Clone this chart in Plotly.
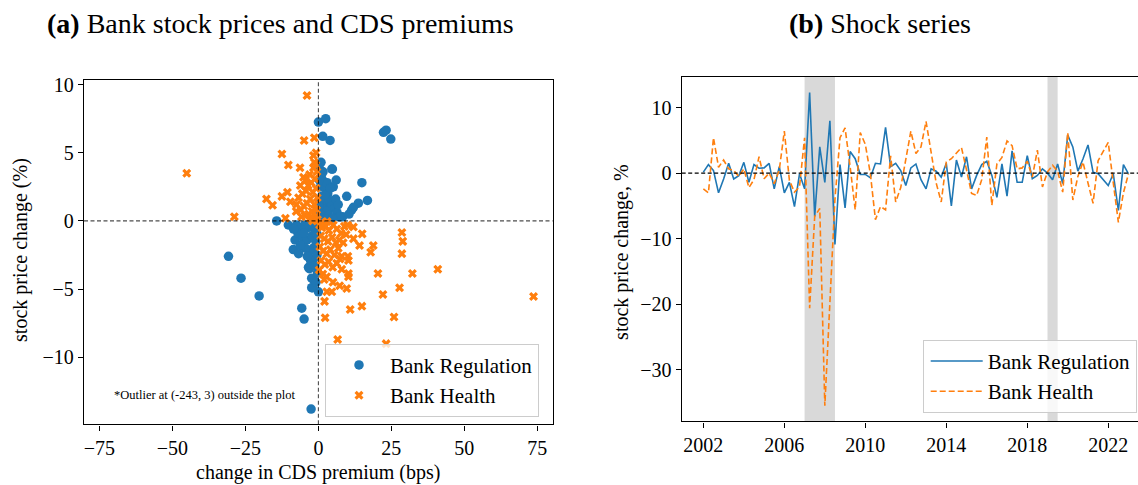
import plotly.graph_objects as go

# ---------------- Panel (a): bank stock prices vs CDS premium changes ----------------
reg_cds = [
    0.0, 2.5, 1.5, 4.0, 22.3, 23.2, 24.8, 4.8, 6.1, 5.1, 14.9, 16.8, 9.7, 13.7, 11.4, 8.3,
    -14.3, -10.3, -30.8, -26.5, -20.3, -5.7, -4.9, -2.5, 0.0, -2.0, -1.7, -3.1, -1.7, -8.0,
    -8.6, -3.4, -2.3, -2.3, 4.6, 12.0, 10.5,
    0.5, 1.0, 1.8, 0.7, 2.5, 3.2, 1.2, 0.4, 2.0, 3.8, 4.5, 5.5, 6.4, 7.2, 1.5, 2.8, 0.6, 3.5,
    4.8, 1.1, 2.3, 5.9, 3.0, 0.9, 0.3, 1.6, 2.2, 0.2, 6.8, 4.1,
    -0.6, -1.4, -2.5, -3.6, -4.8, -6.1, -7.0, -5.4, -3.9, -2.2, -0.9, -1.8, -3.0, -4.5, -6.2,
    -0.5, -2.7, -1.2, -0.3, -0.8, -3.8, -5.0, -1.0, -0.4, -2.0, -7.5, -8.5, -6.8,
]
reg_stock = [
    7.25, 7.5, 6.2, 5.9, 6.5, 6.65, 6.0, 3.8, 3.0, 2.5, 2.8, 1.5, 1.8, 1.3, 0.8, 0.3,
    0.0, -0.3, -2.6, -4.2, -5.5, -6.4, -7.2, -13.8, -5.2, -4.9, -4.3, -3.5, -2.8, -1.4,
    -2.1, -3.4, -4.2, -4.9, 3.8, 1.0, 0.5,
    3.8, 3.2, 2.9, 2.5, 2.4, 2.0, 1.8, 1.5, 1.3, 1.5, 1.1, 0.9, 0.6, 0.3, 0.9, 0.7, 0.5, 0.4,
    0.2, 0.2, 0.1, 1.6, 2.8, 4.3, 3.0, 3.6, 1.9, 1.1, 1.2, 2.4,
    -0.3, -0.6, -0.2, -0.5, -0.3, -0.6, -0.9, -1.2, -1.4, -1.1, -1.5, -2.0, -2.2, -2.0, -1.8,
    -2.5, -2.9, -3.3, -3.8, -4.5, -2.6, -0.9, -0.9, -1.0, -0.4, -0.3, -0.6, -2.4,
]

health_cds = [
    -3.9, -1.4, -4.9, -12.5, -10.3, -6.3, -0.8, -1.4, -1.7, -5.1, -45.1, -28.8, -17.8, -15.7,
    -12.5, -10.6, -9.6, -11.3, -7.6,
    12.0, 15.0, 12.0, 14.1, 18.8, 17.9, 10.1, 8.0, 10.3, 28.6, 28.9, 28.6, 20.4, 32.2, 40.9,
    10.3, 10.3, 22.1, 27.8, 73.7, 14.9, 10.9, 25.9, 2.3, 2.1, 6.6, 23.2, 9.7, 7.3, 5.0, 4.6,
    2.9, 2.0, 8.0, 7.4,
    -0.5, -1.2, -2.4, -3.5, -0.8, -1.9, -4.2, -5.5, -6.8, -0.4, -2.8, -3.9, -5.0, -1.4, -0.6,
    -2.2, -3.3, -4.6, -6.0, -1.0, -2.7, -0.3, -1.7, -0.9, -3.0, -6.2, -5.8, -7.5, -4.4, -2.0,
    0.4, 1.2, 2.5, 3.6, 5.1, 6.3, 7.8, 8.9, 0.8, 2.0, 3.3, 4.7, 6.0, 7.2, 0.5, 1.6, 2.9, 4.1,
    5.5, 0.9, 2.2, 3.5, 4.9, 6.3, 0.3, 1.5, 2.8, 6.8, 8.5, 1.0, 3.0, 9.5, 10.0,
]
health_stock = [
    9.2, 6.1, 5.9, 4.9, 4.1, 3.9, 5.0, 4.3, 4.8, 3.2, 3.5, 0.3, 1.6, 1.15,
    1.8, 2.1, 1.4, 0.2, 0.7,
    -0.45, -0.95, -1.3, -1.8, -1.8, -2.3, -2.6, -2.6, -2.9, -0.85, -1.5, -2.4, -3.85, -3.85, -3.55,
    -3.85, -4.1, -5.4, -4.9, -5.55, -6.25, -6.5, -7.05, -7.1, -5.9, -8.7, -9.0, -4.95, -4.75, -4.5, -5.2,
    -5.2, -4.3, -3.55, -2.8,
    3.6, 3.1, 2.8, 2.6, 2.4, 2.1, 2.2, 2.0, 1.7, 1.7, 1.6, 1.3, 1.1, 1.2, 0.8,
    0.7, 0.5, 0.4, 0.8, 0.3, 0.2, 0.1, 3.9, 4.1, 3.4, 2.6, 0.3, 1.2, 3.0, 0.0,
    -0.3, -0.5, -0.4, -0.7, -0.3, -0.6, -0.9, -0.4, -1.1, -1.3, -1.5, -1.2, -1.6, -1.4, -1.9, -2.2, -2.4, -2.1,
    -2.5, -2.9, -3.2, -3.0, -3.4, -3.1, -3.6, -3.9, -4.1, -2.0, -1.6, -0.1, -0.05, -1.0, -0.3,
]

# ---------------- Panel (b): quarterly shock series, 2002Q1-2023Q1 ----------------
quarters = [2002 + q / 4 for q in range(85)]
reg_shock = [
    0.15, 1.3, 0.4, -3.0, -0.9, 1.5, -0.9, -0.4, 1.65, -1.4,
    1.3, 0.75, 0.8, 1.5, -2.4, 1.0, -3.0, -1.4, -5.1, -0.1,
    -2.4, 12.3, -6.6, 4.0, -1.4, 8.0, -10.9, 1.3, -5.3, 3.3,
    2.2, -0.2, -0.2, -0.7, 1.5, 1.4, 7.0, 1.0, 1.5, 0.4,
    -1.9, 0.8, 1.4, -1.0, -2.4, 0.65, 0.3, -0.6, 1.5, -5.0,
    2.0, -0.6, 2.5, -2.4, -0.35, 1.3, 1.8, -0.35, -3.7, 1.4,
    -3.5, 3.4, -1.4, -1.4, 2.65, -0.85, -0.35, 0.65, 0.0, -1.0,
    1.4, -1.6, 5.8, 4.0, 0.3, 2.15, 4.3, 0.15, -0.1, -1.0,
    -1.9, -0.1, -5.7, 1.3, -0.1,
]
health_shock = [
    -2.4, -3.0, 5.4, 0.9, 2.0, 0.65, 0.4, -0.5, 0.65, -2.2,
    -1.0, 2.5, -0.85, 0.0, -1.6, 0.5, 6.4, -1.1, -2.9, -2.1,
    5.4, -20.6, -6.6, -5.4, -35.5, -19.0, -4.0, 5.4, 6.9, 1.0,
    -5.6, 6.2, 4.4, -0.1, -7.1, -5.1, -5.6, 2.65, -4.4, -2.2,
    2.4, 6.4, 3.0, 4.0, 7.9, 3.5, -1.5, -4.4, 1.7, 2.2,
    3.0, 3.9, 0.5, -3.1, -3.4, -1.0, 5.5, -4.9, 1.4, 2.4,
    4.9, 4.2, 0.65, 0.8, 1.8, -0.6, 3.5, -2.1, 0.2, 1.2,
    0.3, -2.9, 6.2, -4.1, -0.5, 1.7, -1.5, -4.6, 1.9, 3.4,
    4.7, -1.5, -7.5, -3.0, -0.1,
]
shaded_periods = [(2007.0, 2008.5), (2019.0, 2019.5)]

year_ticks = [2002, 2006, 2010, 2014, 2018, 2022]

BLUE = "#1f77b4"
ORANGE = "#ff7f0e"
SERIF = "Liberation Serif"
W, H = 1138, 485

fig = go.Figure()

fig.add_trace(go.Scatter(
    x=reg_cds, y=reg_stock, mode="markers", name="Bank Regulation",
    marker=dict(symbol="circle", size=9.5, color=BLUE, line=dict(width=0)),
    xaxis="x", yaxis="y", legend="legend",
))
fig.add_trace(go.Scatter(
    x=health_cds, y=health_stock, mode="markers", name="Bank Health",
    marker=dict(symbol="x", size=8, color=ORANGE, line=dict(width=0)),
    xaxis="x", yaxis="y", legend="legend",
))

fig.add_trace(go.Scatter(
    x=quarters, y=reg_shock, mode="lines", name="Bank Regulation",
    line=dict(color=BLUE, width=1.6),
    xaxis="x2", yaxis="y2", legend="legend2",
))
fig.add_trace(go.Scatter(
    x=quarters, y=health_shock, mode="lines", name="Bank Health",
    line=dict(color=ORANGE, width=1.6, dash="6px,3px"),
    xaxis="x2", yaxis="y2", legend="legend2",
))

shapes = []
for x0, x1 in shaded_periods:
    shapes.append(dict(type="rect", xref="x2", yref="y2 domain", x0=x0, x1=x1, y0=0, y1=1,
                       fillcolor="#d9d9d9", line=dict(width=0), layer="below"))
# reference lines through the origin of panel (a) and zero line of panel (b)
shapes.append(dict(type="line", xref="x", yref="y domain", x0=0, x1=0, y0=0, y1=1,
                   line=dict(color="rgba(0,0,0,0.7)", width=1.1, dash="4px,2.5px"), layer="above"))
shapes.append(dict(type="line", xref="x domain", yref="y", x0=0, x1=1, y0=0, y1=0,
                   line=dict(color="rgba(0,0,0,0.7)", width=1.1, dash="4px,2.5px"), layer="above"))
shapes.append(dict(type="line", xref="x2 domain", yref="y2", x0=0, x1=1, y0=0, y1=0,
                   line=dict(color="black", width=1.1, dash="4px,2.5px"), layer="above"))

tick_font = dict(family=SERIF, size=20, color="black")
axis_common = dict(
    showgrid=False, zeroline=False, showline=True, linecolor="black", linewidth=1.3,
    ticks="outside", ticklen=5, tickwidth=1.1, tickcolor="black", tickfont=tick_font,
)

annotations = [
    dict(text="<b>(a)</b> Bank stock prices and CDS premiums", x=280 / W, y=1 - 18 / H,
         xref="paper", yref="paper", showarrow=False, xanchor="center", yanchor="middle",
         font=dict(family=SERIF, size=28, color="black")),
    dict(text="<b>(b)</b> Shock series", x=880 / W, y=1 - 18 / H,
         xref="paper", yref="paper", showarrow=False, xanchor="center", yanchor="middle",
         font=dict(family=SERIF, size=28, color="black")),
    dict(text="change in CDS premium (bps)", x=318 / W, y=1 - 472 / H,
         xref="paper", yref="paper", showarrow=False, xanchor="center", yanchor="middle",
         font=dict(family=SERIF, size=20, color="black")),
    dict(text="stock price change (%)", x=21 / W, y=1 - 247 / H, textangle=-90,
         xref="paper", yref="paper", showarrow=False, xanchor="center", yanchor="middle",
         font=dict(family=SERIF, size=20, color="black")),
    dict(text="stock price change, %", x=622 / W, y=1 - 250 / H, textangle=-90,
         xref="paper", yref="paper", showarrow=False, xanchor="center", yanchor="middle",
         font=dict(family=SERIF, size=20, color="black")),
    dict(text="*Outlier at (-243, 3) outside the plot", x=204.5 / W, y=1 - 394 / H,
         xref="paper", yref="paper", showarrow=False, xanchor="center", yanchor="middle",
         font=dict(family=SERIF, size=12.5, color="black")),
]

legend_style = dict(
    bgcolor="rgba(255,255,255,0.8)", bordercolor="#cccccc", borderwidth=1,
    font=dict(family=SERIF, size=21, color="black"), xanchor="left", yanchor="top",
    tracegroupgap=0, itemwidth=52, indentation=2,
)

fig.update_layout(
    width=W, height=H, autosize=False,
    margin=dict(l=0, r=0, t=0, b=0),
    paper_bgcolor="white", plot_bgcolor="white",
    showlegend=True,
    xaxis=dict(domain=[84 / W, 552.5 / W], range=[-80.3, 80.2], anchor="y",
               tickvals=[-75, -50, -25, 0, 25, 50, 75], mirror=True, **axis_common),
    yaxis=dict(domain=[1 - 423.6 / H, 1 - 74.7 / H], range=[-14.92, 10.35], anchor="x",
               tickvals=[-10, -5, 0, 5, 10], mirror=True, **axis_common),
    xaxis2=dict(domain=[681.7 / W, 1.0], range=[2000.93, 2023.47], anchor="y2",
                tickvals=year_ticks, ticktext=[str(y) for y in year_ticks], mirror=True,
                **axis_common),
    yaxis2=dict(domain=[1 - 420.7 / H, 1 - 71.7 / H], range=[-37.9, 14.7], anchor="x2",
                tickvals=[-30, -20, -10, 0, 10], mirror=False, **axis_common),
    legend=dict(x=325 / W, y=1 - 342 / H, **legend_style),
    legend2=dict(x=922.7 / W, y=1 - 338 / H, **legend_style),
    shapes=shapes,
    annotations=annotations,
)

fig.write_html("out.html")
